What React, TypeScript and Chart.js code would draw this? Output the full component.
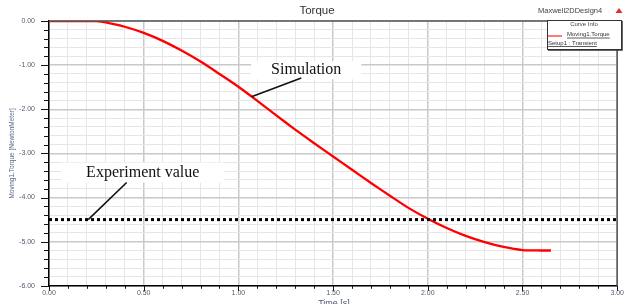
import React, { useEffect, useRef } from "react";
import { Chart, registerables } from "chart.js";

Chart.register(...registerables);

const timeValues = [0, 0.1, 0.2, 0.25, 0.3, 0.4, 0.5, 0.6, 0.7, 0.8, 0.9, 1.0, 1.1, 1.2, 1.3, 1.4, 1.5, 1.6, 1.7, 1.8, 1.9, 2.0, 2.1, 2.2, 2.3, 2.4, 2.5, 2.6, 2.65];
const torqueValues = [0, 0, 0, 0, -0.03, -0.13, -0.27, -0.45, -0.67, -0.92, -1.2, -1.49, -1.81, -2.14, -2.46, -2.77, -3.07, -3.37, -3.67, -3.96, -4.24, -4.48, -4.69, -4.87, -5.01, -5.12, -5.19, -5.2, -5.2];
const experimentTimes = [0, 3];
const experimentValues = [-4.5, -4.5];

const chartTitle = "Torque";
const designName = "Maxwell2DDesign4";
const yTitle = "Moving1.Torque [NewtonMeter]";
const xTitle = "Time [s]";
const legendHeader = "Curve Info";
const legendSeries = "Moving1.Torque";
const legendSetup = "Setup1 : Transient";

// annotations: [text center t, v], leader [t1, v1, t2, v2]
const simLabel = "Simulation";
const simTextPos = [1.358, -1.115];
const simLeader = [1.332, -1.294, 1.069, -1.718];
const expLabel = "Experiment value";
const expTextPos = [0.495, -3.435];
const expLeader = [0.41, -3.66, 0.207, -4.5];

const isMajorX = (v: number) => Math.abs(v * 2 - Math.round(v * 2)) < 1e-6;
const isMajorY = (v: number) => Math.abs(v - Math.round(v)) < 1e-6;

const TICK_COLOR = "#525a6c";

export default function App() {
  const ref = useRef<HTMLCanvasElement | null>(null);

  useEffect(() => {
    if (!ref.current) return;

    const drawBox = (chart: any, label: string, pos: number[], padX: number, h: number) => {
      const ctx = chart.ctx;
      const xs = chart.scales.x;
      const ys = chart.scales.y;
      ctx.save();
      ctx.font = "16px 'Liberation Serif', 'Times New Roman', serif";
      const w = ctx.measureText(label).width;
      const cx = xs.getPixelForValue(pos[0]);
      const cy = ys.getPixelForValue(pos[1]);
      ctx.fillStyle = "#ffffff";
      ctx.fillRect(cx - w / 2 - padX, cy - h / 2, w + padX * 2, h);
      ctx.restore();
    };

    const drawLabel = (chart: any, label: string, pos: number[], leader: number[]) => {
      const ctx = chart.ctx;
      const xs = chart.scales.x;
      const ys = chart.scales.y;
      ctx.save();
      ctx.font = "16px 'Liberation Serif', 'Times New Roman', serif";
      ctx.fillStyle = "#111";
      ctx.textAlign = "center";
      ctx.textBaseline = "middle";
      ctx.fillText(label, xs.getPixelForValue(pos[0]), ys.getPixelForValue(pos[1]));
      ctx.strokeStyle = "#111";
      ctx.lineWidth = 1.6;
      ctx.beginPath();
      ctx.moveTo(xs.getPixelForValue(leader[0]), ys.getPixelForValue(leader[1]));
      ctx.lineTo(xs.getPixelForValue(leader[2]), ys.getPixelForValue(leader[3]));
      ctx.stroke();
      ctx.restore();
    };

    const decor = {
      id: "decor",
      beforeDraw(chart: any) {
        const ctx = chart.ctx;
        ctx.save();
        ctx.fillStyle = "#ffffff";
        ctx.fillRect(0, 0, chart.width, chart.height);
        ctx.restore();
      },
      beforeDatasetsDraw(chart: any) {
        drawBox(chart, expLabel, expTextPos, 25, 20);
        drawBox(chart, simLabel, simTextPos, 20, 18);
      },
      afterDatasetsDraw(chart: any) {
        drawLabel(chart, simLabel, simTextPos, simLeader);
        drawLabel(chart, expLabel, expTextPos, expLeader);
      },
      afterDraw(chart: any) {
        const ctx = chart.ctx;
        const a = chart.chartArea;
        const xs = chart.scales.x;
        const ys = chart.scales.y;
        ctx.save();
        // frame top/right
        ctx.strokeStyle = "#555";
        ctx.lineWidth = 1.5;
        ctx.beginPath();
        ctx.moveTo(a.left, a.top);
        ctx.lineTo(a.right, a.top);
        ctx.lineTo(a.right, a.bottom);
        ctx.stroke();
        // ticks
        ctx.strokeStyle = "#111";
        ctx.lineWidth = 1;
        ys.ticks.forEach((t: any) => {
          const y = Math.round(ys.getPixelForValue(t.value)) + 0.5;
          const len = isMajorY(t.value) ? 8 : 5;
          ctx.beginPath();
          ctx.moveTo(a.left - len, y);
          ctx.lineTo(a.left, y);
          ctx.stroke();
        });
        xs.ticks.forEach((t: any) => {
          const x = Math.round(xs.getPixelForValue(t.value)) + 0.5;
          const len = isMajorX(t.value) ? 5 : 3;
          ctx.beginPath();
          ctx.moveTo(x, a.bottom);
          ctx.lineTo(x, a.bottom + len);
          ctx.stroke();
        });
        // title
        ctx.fillStyle = "#333";
        ctx.font = "11.5px 'Liberation Sans', Arial, sans-serif";
        ctx.textAlign = "center";
        ctx.textBaseline = "middle";
        ctx.fillText(chartTitle, 317, 11);
        // design name
        ctx.font = "7.5px 'Liberation Sans', Arial, sans-serif";
        ctx.fillStyle = "#444";
        ctx.textAlign = "left";
        ctx.fillText(designName, 538, 11);
        // red triangle
        ctx.fillStyle = "#d83030";
        ctx.beginPath();
        ctx.moveTo(619, 8);
        ctx.lineTo(622.5, 13);
        ctx.lineTo(615.5, 13);
        ctx.closePath();
        ctx.fill();
        // legend box
        const lx = 547, ly = 20, lw = 74, lh = 29;
        ctx.fillStyle = "#ffffff";
        ctx.fillRect(lx, ly, lw, lh);
        ctx.strokeStyle = "#333";
        ctx.lineWidth = 1;
        ctx.strokeRect(lx + 0.5, ly + 0.5, lw, lh);
        ctx.lineWidth = 1.5;
        ctx.beginPath();
        ctx.moveTo(lx + lw + 1, ly + 1);
        ctx.lineTo(lx + lw + 1, ly + lh + 1);
        ctx.lineTo(lx + 1, ly + lh + 1);
        ctx.stroke();
        ctx.fillStyle = "#444";
        ctx.font = "6px 'Liberation Sans', Arial, sans-serif";
        ctx.textAlign = "center";
        ctx.fillText(legendHeader, lx + lw / 2, ly + 4.5);
        ctx.strokeStyle = "#ff2020";
        ctx.lineWidth = 1.2;
        ctx.beginPath();
        ctx.moveTo(548, 36);
        ctx.lineTo(562, 36);
        ctx.stroke();
        ctx.textAlign = "left";
        ctx.fillStyle = "#333";
        ctx.fillText(legendSeries, 567, 34.5);
        const w1 = ctx.measureText(legendSeries).width;
        ctx.fillText(legendSetup, 548, 43);
        const w2 = ctx.measureText(legendSetup).width;
        ctx.strokeStyle = "#333";
        ctx.lineWidth = 0.8;
        ctx.beginPath();
        ctx.moveTo(567, 38);
        ctx.lineTo(567 + w1, 38);
        ctx.moveTo(548, 46.5);
        ctx.lineTo(548 + w2, 46.5);
        ctx.stroke();
        // y title
        ctx.save();
        ctx.translate(12, (a.top + a.bottom) / 2);
        ctx.rotate(-Math.PI / 2);
        ctx.fillStyle = "#5a6688";
        ctx.font = "6.5px 'Liberation Sans', Arial, sans-serif";
        ctx.textAlign = "center";
        ctx.textBaseline = "middle";
        ctx.fillText(yTitle, 0, 0);
        ctx.restore();
        // x title (cut off at bottom)
        ctx.fillStyle = "#4a5270";
        ctx.font = "9px 'Liberation Sans', Arial, sans-serif";
        ctx.textAlign = "center";
        ctx.textBaseline = "top";
        ctx.fillText(xTitle, 334, 299.5);
        ctx.restore();
      },
    };

    const chart = new Chart(ref.current, {
      type: "line",
      data: {
        datasets: [
          {
            label: "Experiment",
            data: experimentTimes.map((t, i) => ({ x: t, y: experimentValues[i] })),
            borderColor: "#000",
            borderWidth: 3,
            borderDash: [3, 3],
            borderCapStyle: "butt",
            pointRadius: 0,
            fill: false,
          },
          {
            label: legendSeries,
            data: timeValues.map((t, i) => ({ x: t, y: torqueValues[i] })),
            borderColor: "#ff0000",
            borderWidth: 2.3,
            pointRadius: 0,
            tension: 0.3,
            fill: false,
          },
        ],
      },
      options: {
        animation: false,
        responsive: false,
        devicePixelRatio: 1,
        layout: { padding: { top: 21, right: 9, left: 0, bottom: 0 } },
        plugins: { legend: { display: false }, title: { display: false }, tooltip: { enabled: false } },
        scales: {
          x: {
            type: "linear",
            min: 0,
            max: 3,
            afterFit: (s: any) => {
              s.height = 14;
            },
            ticks: {
              stepSize: 0.1,
              autoSkip: false,
              maxRotation: 0,
              padding: 3,
              color: TICK_COLOR,
              font: { size: 7, family: "'Liberation Sans', Arial, sans-serif" },
              callback: (v: any) => (isMajorX(Number(v)) ? Number(v).toFixed(2) : ""),
            },
            grid: {
              drawTicks: false,
              color: (c: any) => (c.tick && isMajorX(c.tick.value) ? "#c9c9c9" : "#e6e6e6"),
              lineWidth: (c: any) => (c.tick && isMajorX(c.tick.value) ? 1.5 : 1),
            },
            border: { display: true, color: "#000", width: 1.5 },
          },
          y: {
            type: "linear",
            min: -6,
            max: 0,
            afterFit: (s: any) => {
              s.width = 49;
            },
            ticks: {
              stepSize: 0.2,
              autoSkip: false,
              padding: 14,
              color: TICK_COLOR,
              font: { size: 7, family: "'Liberation Sans', Arial, sans-serif" },
              callback: (v: any) => (isMajorY(Number(v)) ? Math.round(Number(v)).toFixed(2) : ""),
            },
            grid: {
              drawTicks: false,
              color: (c: any) => (c.tick && isMajorY(c.tick.value) ? "#c9c9c9" : "#e6e6e6"),
              lineWidth: (c: any) => (c.tick && isMajorY(c.tick.value) ? 1.5 : 1),
            },
            border: { display: true, color: "#000", width: 1.5 },
          },
        },
      },
      plugins: [decor],
    } as any);

    return () => chart.destroy();
  }, []);

  return (
    <div style={{ position: "fixed", left: 0, top: 0, width: 627, height: 304, background: "#fff" }}>
      <canvas ref={ref} width={627} height={304} style={{ display: "block", width: 627, height: 304 }} />
    </div>
  );
}
